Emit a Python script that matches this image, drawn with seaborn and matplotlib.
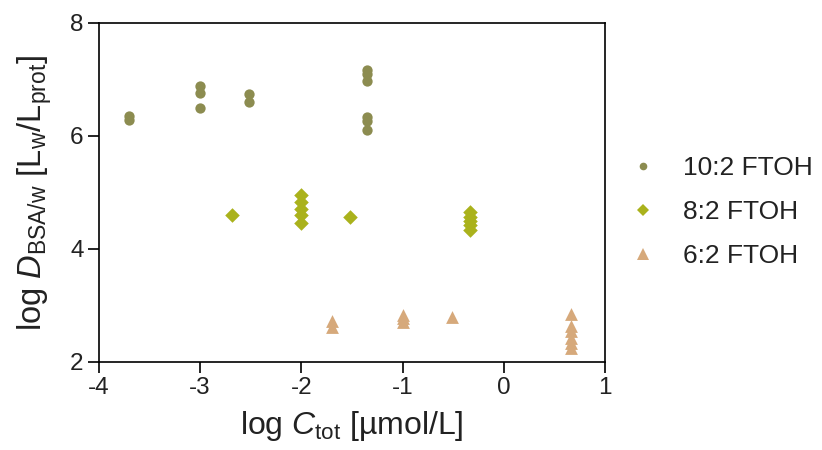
import matplotlib
matplotlib.use("Agg")
import matplotlib.pyplot as plt
from matplotlib.lines import Line2D
import seaborn as sns
import pandas as pd

# --- data ---
x_102 = [-3.7, -3.7, -3.0, -3.0, -3.0, -2.52, -2.52, -1.35, -1.35, -1.35, -1.35, -1.35, -1.35]
y_102 = [6.35, 6.29, 6.88, 6.76, 6.50, 6.75, 6.60, 7.16, 7.09, 6.97, 6.33, 6.26, 6.11]

x_82 = [-2.69, -2.0, -2.0, -2.0, -2.0, -2.0, -1.52, -0.33, -0.33, -0.33, -0.33, -0.33]
y_82 = [4.60, 4.96, 4.84, 4.70, 4.60, 4.46, 4.57, 4.65, 4.57, 4.50, 4.42, 4.34]

x_62 = [-1.70, -1.70, -1.0, -1.0, -1.0, -0.51, 0.66, 0.66, 0.66, 0.66, 0.66, 0.66]
y_62 = [2.73, 2.62, 2.83, 2.77, 2.71, 2.79, 2.85, 2.63, 2.55, 2.43, 2.33, 2.25]

labels = ["10:2 FTOH", "8:2 FTOH", "6:2 FTOH"]
colors = ["#8c8c50", "#aab21c", "#d6a97b"]
markers = ["o", "D", "^"]
x_ticks = [-4, -3, -2, -1, 0, 1]
y_ticks = [2, 4, 6, 8]

series_x = [x_102, x_82, x_62]
series_y = [y_102, y_82, y_62]

sns.set_theme(style="ticks")
plt.rcParams["font.family"] = ["Liberation Sans", "DejaVu Sans"]
plt.rcParams["mathtext.fontset"] = "custom"
plt.rcParams["mathtext.rm"] = "Liberation Sans"
plt.rcParams["mathtext.it"] = "Liberation Sans:italic"
plt.rcParams["mathtext.bf"] = "Liberation Sans:bold"

fig = plt.figure(figsize=(8.22, 4.5), dpi=100)
ax = fig.add_axes([0.1204, 0.1956, 0.6156, 0.7533])

plot_sizes = [55, 55, 85]
for xs, ys, lab, col, mk, sz in zip(series_x, series_y, labels, colors, markers, plot_sizes):
    d = pd.DataFrame({"x": xs, "y": ys})
    sns.scatterplot(data=d, x="x", y="y", color=col, marker=mk, s=sz,
                    linewidth=0, ax=ax, legend=False)

ax.set_xlim(-4, 1)
ax.set_ylim(2, 8)
ax.set_xticks(x_ticks)
ax.set_yticks(y_ticks)
ax.set_xticklabels([str(t) for t in x_ticks])
ax.set_yticklabels([str(t) for t in y_ticks])
ax.tick_params(axis="both", labelsize=17.5, width=1.2, length=8, pad=3,
               color="black", labelcolor="#222222")
for sp in ax.spines.values():
    sp.set_visible(True)
    sp.set_linewidth(1.2)
    sp.set_color("black")

ax.set_xlabel(r"log $\mathit{C}_{\mathrm{tot}}$ [µmol/L]", fontsize=23, color="#222222", labelpad=7)
ax.set_ylabel(r"log $\mathit{D}_{\mathrm{BSA/w}}$ [L$_{\mathrm{w}}$/L$_{\mathrm{prot}}$]", fontsize=23.5, color="#222222", labelpad=12)

legend_ms = [5.5, 6.5, 8.5]
handles = [Line2D([], [], linestyle="none", marker=mk, color=col, markersize=ms, markeredgewidth=0)
           for mk, col, ms in zip(markers, colors, legend_ms)]
leg = ax.legend(handles, labels, loc="center left", bbox_to_anchor=(1.05, 0.442),
                frameon=False, fontsize=19, handletextpad=1.0, labelspacing=0.75,
                handlelength=1.0, borderaxespad=0, borderpad=0)
for t in leg.get_texts():
    t.set_color("#222222")

fig.savefig("out.png", dpi=100)
